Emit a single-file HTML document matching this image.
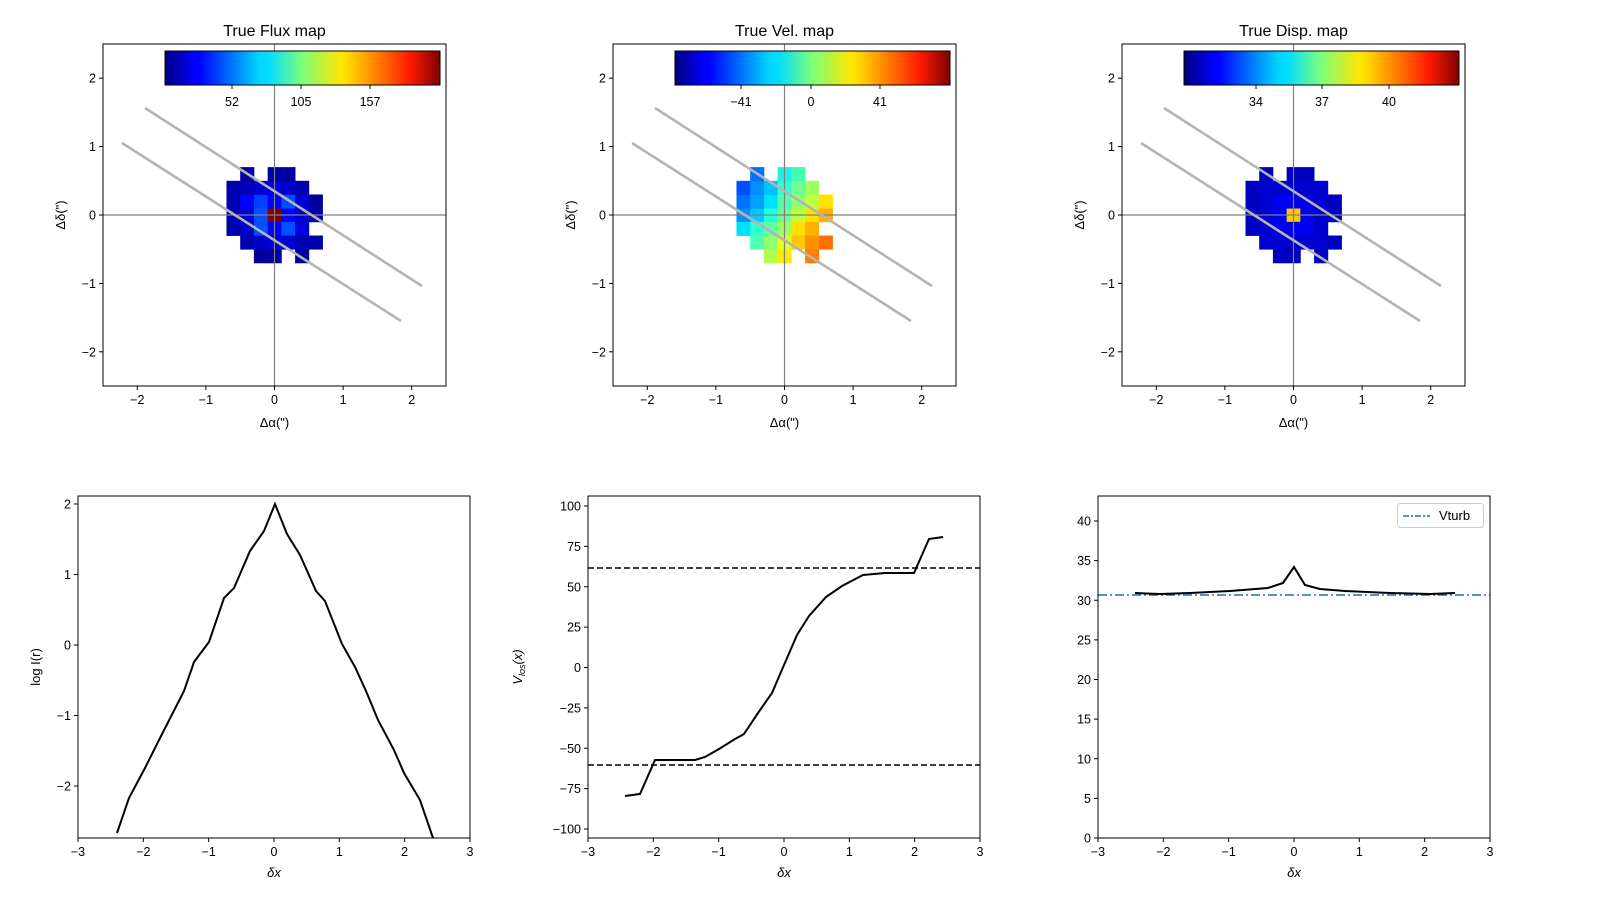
<!DOCTYPE html>
<html><head><meta charset="utf-8"><style>
body{margin:0;background:#fff}
svg{display:block;font-family:"Liberation Sans","DejaVu Sans",sans-serif}
</style></head><body>
<svg id="s" width="1600" height="900" viewBox="0 0 1600 900" xmlns="http://www.w3.org/2000/svg">
<defs>
<linearGradient id="jet" x1="0" x2="1" y1="0" y2="0">
<stop offset="0" stop-color="#00007f"/><stop offset="0.11" stop-color="#0000ff"/><stop offset="0.125" stop-color="#0000ff"/>
<stop offset="0.34" stop-color="#00d4ff"/><stop offset="0.375" stop-color="#0df"/><stop offset="0.5" stop-color="#7dff7a"/>
<stop offset="0.64" stop-color="#ffe600"/><stop offset="0.66" stop-color="#fd0"/><stop offset="0.89" stop-color="#ff1a00"/>
<stop offset="1" stop-color="#7f0000"/></linearGradient>
</defs>
<g id="g"></g>
</svg>
<script>
const NS="http://www.w3.org/2000/svg";let out="";
function T(x,y,t,o={}){out+=`<text x="${x}" y="${y}" font-size="${o.fs||13}" text-anchor="${o.a||'middle'}" ${o.st||''} fill="#000">${t}</text>`}
function L(x1,y1,x2,y2,st){out+=`<line x1="${x1}" y1="${y1}" x2="${x2}" y2="${y2}" ${st}/>`}
const mask={3:[-2,0,1],2:[-3,-2,-1,0,1,2],1:[-3,-2,-1,0,1,2,3],0:[-3,-2,-1,0,1,2,3],"-1":[-3,-2,-1,0,1,2],"-2":[-2,-1,0,1,2,3],"-3":[-1,0,2]};
const flux={3:["#0000a8","#0000a0","#0000a0"],2:["#0000b0","#0000b8","#0000d0","#0000e0","#0000c8","#0000b0"],1:["#0000b0","#0000ff","#0040ff","#0000ff","#0050ff","#0000d8","#0000a0"],0:["#0000b0","#0000d8","#0050ff","#800000","#0000ff","#0000c8","#0000a8"],"-1":["#0000a8","#0000c8","#0050ff","#0000ff","#0050ff","#0000e0"],"-2":["#0000b0","#0000c8","#0000d8","#0000d0","#0000b0","#0000a8"],"-3":["#00009c","#0000a0","#0000a0"]};
const vel={3:["#0070ff","#20f0e0","#40ffb0"],2:["#0050ff","#0090ff","#00c0ff","#30ffd0","#70ff90","#a0ff60"],1:["#0070ff","#00a0ff","#00e0ff","#50ffb0","#90ff70","#c0ff40","#ffe000"],0:["#0090ff","#00c8ff","#20ffe0","#70ff90","#c0ff40","#ffe000","#ffb000"],"-1":["#00e0ff","#30ffd0","#60ffa0","#a0ff60","#ffe000","#ffb000"],"-2":["#50ffb0","#90ff70","#e0ff20","#ffc800","#ff9000","#ff7000"],"-3":["#b0ff50","#f0f000","#ff8000"]};
function disp(r,c){if(r==0&&c==0)return"#ffc800";if(Math.abs(r)<=1&&Math.abs(c)<=1)return"#0000f0";if(Math.abs(r)<=2&&Math.abs(c)<=2)return"#0000d0";return"#0000c0"}
const tops=[[103,"True Flux map",flux,["52",232,"105",301,"157",370]],[613,"True Vel. map",vel,["\u221241",741,"0",811,"41",880]],[1122,"True Disp. map",null,["34",1256,"37",1322,"40",1389]]];
tops.forEach(([x0,title,cols,cb],pi)=>{
 const w=343,h=342,y0=44,cx=x0+171.5,cy=215,sx=68.6,sy=68.4;
 for(const r in mask){mask[r].forEach((c,i)=>{const col=cols?cols[r][i]:disp(+r,c);
  out+=`<rect x="${cx+(c*0.2-0.1)*sx}" y="${cy-(r*0.2+0.1)*sy}" width="${0.2*sx+0.4}" height="${0.2*sy+0.4}" fill="${col}"/>`})}
 L(cx,y0,cx,y0+h,'stroke="#808080" stroke-width="1.2"');L(x0,cy,x0+w,cy,'stroke="#808080" stroke-width="1.2"');
 L(x0+42,108,x0+319,286,'stroke="#b4b4b4" stroke-width="2.6"');L(x0+19,143,x0+298,321,'stroke="#b4b4b4" stroke-width="2.6"');
 out+=`<rect x="${x0+62}" y="51" width="275" height="34" fill="url(#jet)" stroke="#000" stroke-width="1"/>`;
 for(let k=0;k<6;k+=2){L(cb[k+1],85,cb[k+1],89,'stroke="#000"');T(cb[k+1],106,cb[k],{fs:12.5})}
 out+=`<rect x="${x0}" y="${y0}" width="${w}" height="${h}" fill="none" stroke="#000" stroke-width="1"/>`;
 [-2,-1,0,1,2].forEach(v=>{const x=cx+v*sx,y=cy-v*sy;L(x,y0+h,x,y0+h+4,'stroke="#000"');T(x,y0+h+18,v<0?"\u2212"+(-v):v,{fs:12.5});
  L(x0-4,y,x0,y,'stroke="#000"');T(x0-7,y+4.5,v<0?"\u2212"+(-v):v,{fs:12.5,a:"end"})});
 T(cx,36,title,{fs:16});T(cx,427,'\u0394\u03b1(")',{fs:13});
 out+=`<text transform="translate(${x0-38},${cy}) rotate(-90)" font-size="13" text-anchor="middle">\u0394\u03b4(")</text>`;
});
function poly(p,st){out+=`<polyline points="${p.map(a=>a.join(',')).join(' ')}" fill="none" ${st}/>`}
const bots=[[78,[2,1,0,-1,-2],v=>645-v*70.5,"log I(r)",30],[588,[100,75,50,25,0,-25,-50,-75,-100],v=>667.5-v*1.615,"V<tspan font-size='9' dy='3'>los</tspan><tspan dy='-3'>(x)</tspan>",58],[1098,[0,5,10,15,20,25,30,35,40],v=>838-v*7.925,"",0]];
bots.forEach(([x0,yt,fy,yl,yo],pi)=>{
 const w=392,y0=496,h=342;
 if(pi==0)poly([[117,833],[129,798],[145,768],[160,738],[184,691],[194,662],[209,642],[224,598],[234,588],[250,551],[264,531],[275,504],[287,534],[300,555],[316,591],[325,601],[342,644],[355,667],[366,691],[378,720],[394,750],[404,773],[420,800],[433,838]],'stroke="#000" stroke-width="2"');
 if(pi==1){L(588,568,980,568,'stroke="#000" stroke-width="1.6" stroke-dasharray="6,3"');L(588,765,980,765,'stroke="#000" stroke-width="1.6" stroke-dasharray="6,3"');
  poly([[625,796],[640,794],[655,760],[695,760],[705,757],[719,749],[735,739],[744,734],[758,713],[772,693],[784,665],[797,635],[809,616],[826,597],[842,586],[863,575],[885,573],[914,573],[929,539],[943,537]],'stroke="#000" stroke-width="2"')}
 if(pi==2){L(1098,595,1490,595,'stroke="#1f6fb4" stroke-width="1.6" stroke-dasharray="9,3,2,3"');
  poly([[1135,593],[1160,594],[1190,593],[1230,591],[1268,588],[1283,583],[1294,567],[1305,585],[1320,589],[1345,591],[1390,593],[1430,594],[1455,593]],'stroke="#000" stroke-width="2"');
  out+=`<rect x="1397.5" y="503.5" width="86" height="24" rx="3" fill="#fff" stroke="#ccc"/>`;L(1403,516,1430,516,'stroke="#1f6fb4" stroke-width="1.6" stroke-dasharray="6,2,2,2"');T(1439,520,"Vturb",{fs:13,a:"start"})}
 out+=`<rect x="${x0}" y="${y0}" width="${w}" height="${h}" fill="none" stroke="#000" stroke-width="1"/>`;
 [-3,-2,-1,0,1,2,3].forEach(v=>{const x=x0+(v+3)*65.33;L(x,y0+h,x,y0+h+4,'stroke="#000"');T(x,y0+h+18,v<0?"\u2212"+(-v):v,{fs:12.5})});
 yt.forEach(v=>{const y=fy(v);L(x0-4,y,x0,y,'stroke="#000"');T(x0-7,y+4.5,v<0?"\u2212"+(-v):v,{fs:12.5,a:"end"})});
 out+=`<text x="${x0+196}" y="877" font-size="13" text-anchor="middle" font-style="italic">\u03b4x</text>`;
 if(yl)out+=`<text transform="translate(${x0-yo-8},${667}) rotate(-90)" font-size="13" text-anchor="middle" ${pi==1?'font-style="italic"':''}>${yl}</text>`;
});
document.getElementById("g").innerHTML=out;
</script>
</body></html>
